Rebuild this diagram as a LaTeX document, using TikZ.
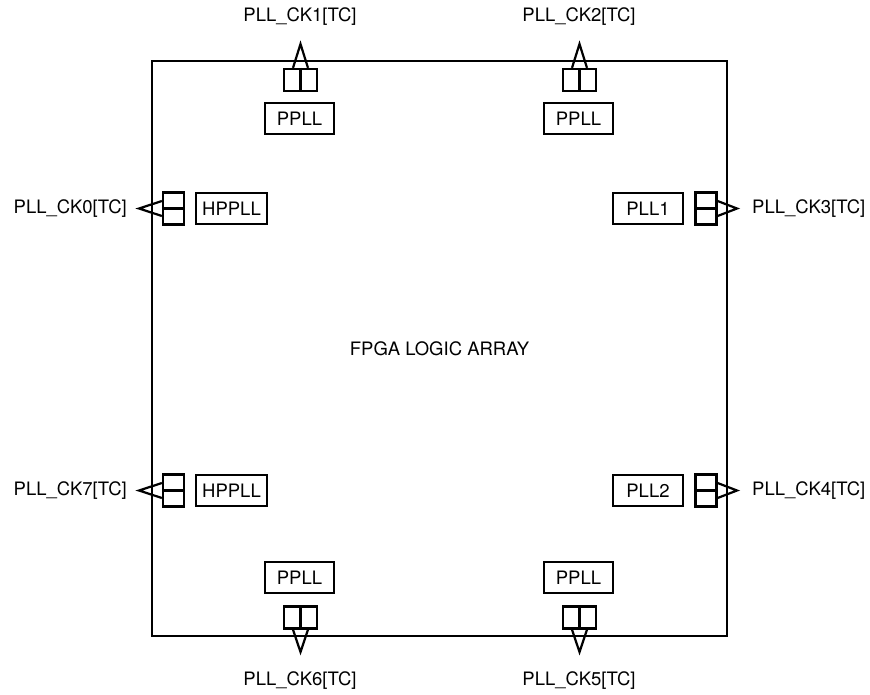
\documentclass[tikz,border=0pt]{standalone}
\usepackage{fontspec}
\setmainfont{TeX Gyre Heros}
\usetikzlibrary{positioning}

\begin{document}
\begin{tikzpicture}[
  x=1pt, y=-1pt,
  font=\fontsize{18.5}{22}\selectfont,
  chip/.style={
    draw, line width=2.2pt, minimum width=575pt, minimum height=575pt,
    inner sep=0pt
  },
  pll/.style={
    draw, line width=2.2pt, minimum height=31pt, inner sep=0pt
  },
  padv/.style={
    draw, line width=2.2pt, minimum width=33pt, minimum height=22pt, inner sep=0pt
  },
  padh/.style={
    draw, line width=2.2pt, minimum width=21pt, minimum height=32pt, inner sep=0pt
  },
  pin/.style={line width=2.2pt, line join=miter},
  sig/.style={inner sep=0pt}
]
\useasboundingbox (0,0) rectangle (870,694);

% ----- chip -----
\node[chip] (fpga) at (439.5,348.5) {FPGA LOGIC ARRAY};

% ----- top -----
\node[pll, minimum width=69pt] (ppllA) at (299.5,118.5) {PPLL};
\node[pll, minimum width=69pt] (ppllB) at (578.5,118.5) {PPLL};
\node[padv] (pad1) at (300.5,80) {};
\node[padv] (pad2) at (579.5,80) {};
\draw[pin] (pad1.north) -- (pad1.south);
\draw[pin] (pad2.north) -- (pad2.south);
\coordinate (ck1) at (300.5,44);
\coordinate (ck2) at (579.5,44);
\draw[pin] ([xshift=-7.5pt]pad1.north) -- (ck1) -- ([xshift=7.5pt]pad1.north);
\draw[pin] ([xshift=-7.5pt]pad2.north) -- (ck2) -- ([xshift=7.5pt]pad2.north);
\node[sig] (lbl1) at (300,17) {PLL\_CK1[TC]};
\node[sig] (lbl2) at (579,17) {PLL\_CK2[TC]};

% ----- left -----
\node[pll, minimum width=71pt] (hpllA) at (231.5,208.5) {HPPLL};
\node[pll, minimum width=71pt] (hpllB) at (231.5,490.5) {HPPLL};
\node[padh] (pad0) at (173.5,208.5) {};
\node[padh] (pad7) at (173.5,490.5) {};
\draw[pin] (pad0.west) -- (pad0.east);
\draw[pin] (pad7.west) -- (pad7.east);
\coordinate (ck0) at (139,208.5);
\coordinate (ck7) at (139,490.5);
\draw[pin] ([yshift=-7.5pt]pad0.west) -- (ck0) -- ([yshift=7.5pt]pad0.west);
\draw[pin] ([yshift=-7.5pt]pad7.west) -- (ck7) -- ([yshift=7.5pt]pad7.west);
\node[sig, anchor=east] (lbl0) at (127,208.5) {PLL\_CK0[TC]};
\node[sig, anchor=east] (lbl7) at (127,490.5) {PLL\_CK7[TC]};

% ----- right -----
\node[pll, minimum width=70pt] (pll1) at (648,208.5) {PLL1};
\node[pll, minimum width=70pt] (pll2) at (648,490.5) {PLL2};
\node[padh] (pad3) at (706,208.5) {};
\node[padh] (pad4) at (706,490.5) {};
\draw[pin] (pad3.west) -- (pad3.east);
\draw[pin] (pad4.west) -- (pad4.east);
\coordinate (ck3) at (737,208.5);
\coordinate (ck4) at (737,490.5);
\draw[pin] ([yshift=-7.5pt]pad3.east) -- (ck3) -- ([yshift=7.5pt]pad3.east);
\draw[pin] ([yshift=-7.5pt]pad4.east) -- (ck4) -- ([yshift=7.5pt]pad4.east);
\node[sig, anchor=west] (lbl3) at (752,208.5) {PLL\_CK3[TC]};
\node[sig, anchor=west] (lbl4) at (752,490.5) {PLL\_CK4[TC]};

% ----- bottom -----
\node[pll, minimum width=69pt] (ppllC) at (299.5,577.5) {PPLL};
\node[pll, minimum width=69pt] (ppllD) at (578.5,577.5) {PPLL};
\node[padv] (pad6) at (300.5,617.5) {};
\node[padv] (pad5) at (579.5,617.5) {};
\draw[pin] (pad6.north) -- (pad6.south);
\draw[pin] (pad5.north) -- (pad5.south);
\coordinate (ck6) at (300.5,652);
\coordinate (ck5) at (579.5,652);
\draw[pin] ([xshift=-7.5pt]pad6.south) -- (ck6) -- ([xshift=7.5pt]pad6.south);
\draw[pin] ([xshift=-7.5pt]pad5.south) -- (ck5) -- ([xshift=7.5pt]pad5.south);
\node[sig] (lbl6) at (300,681) {PLL\_CK6[TC]};
\node[sig] (lbl5) at (579,681) {PLL\_CK5[TC]};

\end{tikzpicture}
\end{document}
